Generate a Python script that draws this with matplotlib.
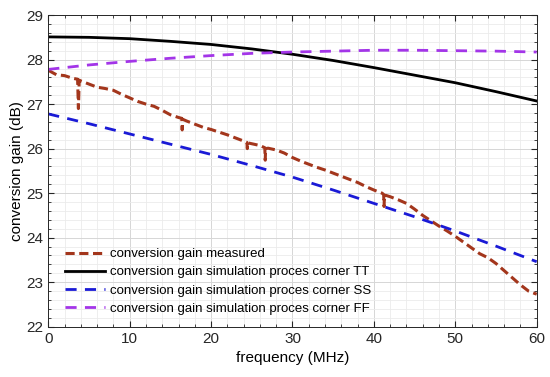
import matplotlib
matplotlib.use('Agg')
import matplotlib.pyplot as plt
from matplotlib.ticker import MultipleLocator

plt.rcParams['font.family'] = ['Liberation Sans', 'DejaVu Sans']

# simulation corners, read every 5 MHz
f_sim = [0, 5, 10, 15, 20, 25, 30, 35, 40, 45, 50, 55, 60]
gain_tt = [28.51, 28.50, 28.47, 28.41, 28.34, 28.24, 28.12, 27.98, 27.82, 27.65, 27.48, 27.28, 27.07]
gain_ss = [26.78, 26.56, 26.33, 26.10, 25.87, 25.62, 25.36, 25.07, 24.77, 24.47, 24.15, 23.81, 23.46]
gain_ff = [27.78, 27.88, 27.96, 28.03, 28.09, 28.14, 28.17, 28.19, 28.21, 28.21, 28.20, 28.19, 28.17]

# measured gain (with the short dips)
f_meas = [0, 1, 2, 3, 3.6, 3.7, 3.8, 4, 5, 6, 7, 8, 9, 10, 11, 12, 13, 14, 15,
          16, 16.4, 16.45, 16.5, 17, 18, 19, 20, 21, 22, 23, 24, 24.4, 24.45, 24.5,
          25, 26, 26.6, 26.65, 26.7, 27, 28, 29, 30, 31, 32, 33, 34, 35, 36, 37, 38,
          39, 40, 41, 41.2, 41.25, 41.3, 42, 43, 44, 45, 46, 47, 48, 49, 50, 51, 52,
          53, 54, 55, 56, 57, 58, 59, 60]
gain_meas = [27.76, 27.66, 27.64, 27.58, 27.56, 26.90, 27.54, 27.52, 27.45, 27.38, 27.35, 27.31, 27.22, 27.14, 27.06, 27.00, 26.95, 26.86, 26.76,
             26.70, 26.68, 26.42, 26.66, 26.62, 26.55, 26.48, 26.43, 26.37, 26.31, 26.24, 26.17, 26.14, 26.00, 26.13,
             26.11, 26.07, 26.02, 25.74, 26.00, 26.01, 25.97, 25.90, 25.80, 25.72, 25.65, 25.58, 25.52, 25.45, 25.38, 25.31, 25.24,
             25.15, 25.07, 25.00, 24.97, 24.70, 24.96, 24.92, 24.85, 24.77, 24.64, 24.50, 24.38, 24.26, 24.15, 24.03, 23.90, 23.77,
             23.64, 23.55, 23.42, 23.26, 23.10, 22.94, 22.80, 22.73]

fig = plt.figure(figsize=(5.5, 3.77), dpi=100)
ax = fig.add_axes([0.0878, 0.1334, 0.888, 0.8266])

ax.plot(f_meas, gain_meas, '--', color='#a3361c', lw=2.2, dashes=(3, 1.5), label='conversion gain measured')
ax.plot(f_sim, gain_tt, '-', color='black', lw=2, label='conversion gain simulation proces corner TT')
ax.plot(f_sim, gain_ss, '--', color='#1a1ad6', lw=2, dashes=(4, 3), label='conversion gain simulation proces corner SS')
ax.plot(f_sim, gain_ff, '--', color='#a335e8', lw=2, dashes=(4, 3), label='conversion gain simulation proces corner FF')

ax.set_xlim(0, 60)
ax.set_ylim(22, 29)
ax.xaxis.set_major_locator(MultipleLocator(10))
ax.xaxis.set_minor_locator(MultipleLocator(2))
ax.yaxis.set_major_locator(MultipleLocator(1))
ax.yaxis.set_minor_locator(MultipleLocator(0.2))
ax.grid(which='major', color='#d6d6d6', lw=0.7)
ax.grid(which='minor', color='#ebebeb', lw=0.6)
ax.set_axisbelow(True)
ax.tick_params(which='both', direction='in', top=True, right=True, labelsize=11, colors='#262626')
ax.tick_params(which='major', length=4)
ax.tick_params(which='minor', length=2)
for s in ax.spines.values():
    s.set_color('#262626')
    s.set_linewidth(0.7)

ax.set_xlabel('frequency (MHz)', fontsize=11)
ax.set_ylabel('conversion gain (dB)', fontsize=11, labelpad=2)

ax.legend(loc='lower left', bbox_to_anchor=(0.01, 0.0), frameon=False, fontsize=9.5,
          handlelength=3.0, handletextpad=0.4, labelspacing=0.45, borderaxespad=0.5)

fig.savefig('out.png', dpi=100)
